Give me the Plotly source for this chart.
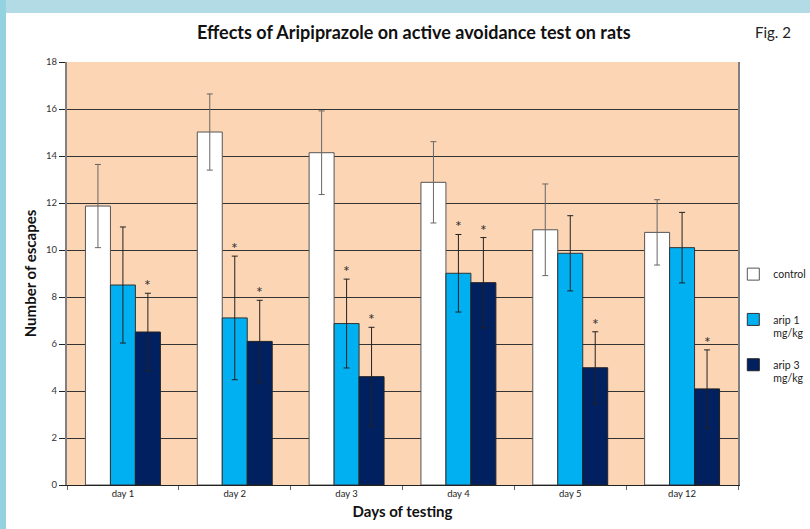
import plotly.graph_objects as go

days = ["day 1", "day 2", "day 3", "day 4", "day 5", "day 12"]
control = [11.87, 15.02, 14.14, 12.88, 10.86, 10.75]
control_err = [1.77, 1.62, 1.78, 1.73, 1.95, 1.39]
arip1 = [8.51, 7.11, 6.87, 9.01, 9.86, 10.10]
arip1_err = [2.47, 2.63, 1.89, 1.65, 1.60, 1.50]
arip3 = [6.51, 6.11, 4.61, 8.61, 4.99, 4.09]
arip3_err = [1.65, 1.75, 2.10, 1.92, 1.53, 1.66]
arip1_sig = [False, True, True, True, False, False]
arip3_sig = [True, True, True, True, True, True]
y_ticks = [0, 2, 4, 6, 8, 10, 12, 14, 16, 18]

FONT = "Lato"
fig = go.Figure()

def add(name, vals, errs, color, line, errcolor, group):
    fig.add_trace(go.Bar(
        x=days, y=vals, name=name, legendgroup=group,
        marker=dict(color=color, line=dict(color=line, width=1)),
        error_y=dict(type="data", array=errs, visible=True, color=errcolor,
                     thickness=1, width=3),
    ))

add("control<br>&nbsp;", control, control_err, "#ffffff", "#555555", "#666666", "g1")
add("arip 1<br>mg/kg", arip1, arip1_err, "#00b0f0", "#333333", "#222222", "g2")
add("arip 3<br>mg/kg", arip3, arip3_err, "#002060", "#222222", "#222222", "g3")

annotations = []
for d, v, e, s in zip(days, arip1, arip1_err, arip1_sig):
    if s:
        annotations.append(dict(x=d, y=v + e, xref="x", yref="y", text="*", showarrow=False,
                                xshift=0, yanchor="bottom", yshift=-3,
                                font=dict(size=16, color="#333333", family=FONT)))
for d, v, e, s in zip(days, arip3, arip3_err, arip3_sig):
    if s:
        annotations.append(dict(x=d, y=v + e, xref="x", yref="y", text="*", showarrow=False,
                                xshift=25, yanchor="bottom", yshift=-3,
                                font=dict(size=16, color="#333333", family=FONT)))

annotations.append(dict(text="<b>Effects of Aripiprazole on active avoidance test on rats</b>",
                        xref="paper", yref="paper", x=0.517, y=1.0, yshift=30,
                        xanchor="center", yanchor="middle", showarrow=False,
                        font=dict(size=18, color="#111111", family=FONT)))
annotations.append(dict(text="Fig. 2", xref="paper", yref="paper", x=1.0, xshift=35, y=1.0, yshift=30,
                        xanchor="center", yanchor="middle", showarrow=False,
                        font=dict(size=15, color="#222222", family=FONT)))

shapes = [
    dict(type="rect", xref="paper", yref="paper", x0=-0.2, x1=1.2, y0=1.1158, y1=1.2,
         fillcolor="#b3dbe6", line=dict(width=0), layer="above"),
    dict(type="rect", xref="paper", yref="paper", x0=-0.2, x1=-0.0909, y0=-0.2, y1=1.2,
         fillcolor="#95d2e0", line=dict(width=0), layer="above"),
]

fig.update_layout(
    width=810, height=529,
    margin=dict(l=67, r=72, t=62, b=44, autoexpand=False),
    paper_bgcolor="#ffffff",
    plot_bgcolor="#fcd5b5",
    barmode="group", bargap=0.33, bargroupgap=0,
    font=dict(family=FONT, color="#222222"),
    showlegend=True,
    legend=dict(x=0.993, xanchor="left", y=0.53, yanchor="top", valign="top",
                font=dict(size=10.5, color="#222222", family=FONT),
                tracegroupgap=15, itemwidth=30, bgcolor="rgba(0,0,0,0)"),
    annotations=annotations,
    shapes=shapes,
    xaxis=dict(
        showline=True, linecolor="#222222", linewidth=1,
        ticks="outside", tickson="boundaries", ticklen=4, tickcolor="#666666",
        tickfont=dict(size=9.5, color="#222222", family=FONT),
        title=dict(text="<b>Days of testing</b>", font=dict(size=15, color="#111111", family=FONT), standoff=8),
        showgrid=False,
    ),
    yaxis=dict(
        range=[0, 18], tickvals=y_ticks, showline=True, linecolor="#808080", linewidth=2,
        mirror=True,
        ticks="outside", ticklen=6, tickcolor="#222222",
        tickfont=dict(size=9.5, color="#333333", family=FONT),
        gridcolor="#333333", gridwidth=1, zeroline=False,
        title=dict(text="<b>Number of escapes</b>", font=dict(size=15, color="#111111", family=FONT), standoff=6),
    ),
)

fig.write_html("out.html", post_script="document.body.style.margin='0';",
               config={"displayModeBar": False})
